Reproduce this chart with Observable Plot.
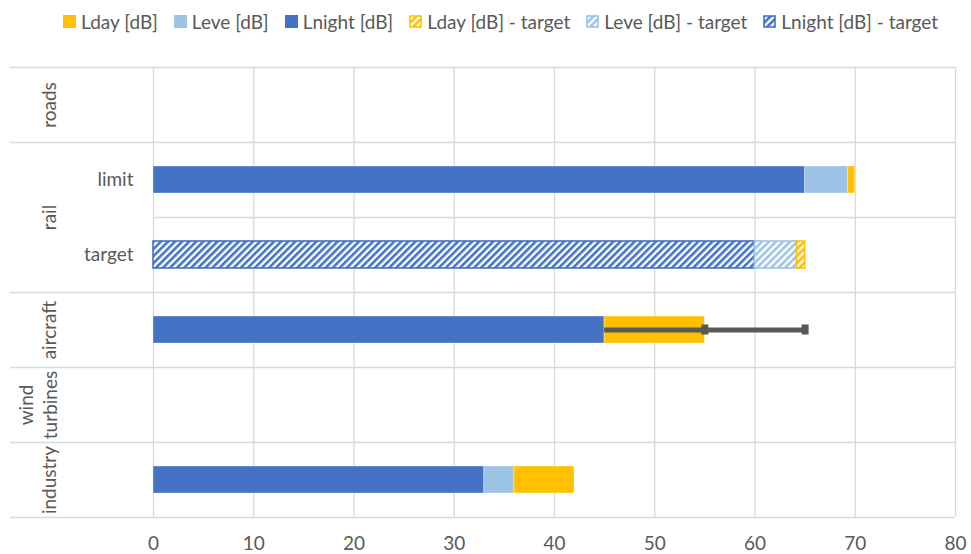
<!DOCTYPE html>
<html><head><meta charset="utf-8">
<script src="https://cdn.jsdelivr.net/npm/d3@7"></script>
<script src="https://cdn.jsdelivr.net/npm/@observablehq/plot@0.6"></script>
<style>
html,body{margin:0;padding:0;background:#fff;}
body{font-family:Lato,"Noto Sans",sans-serif;color:#595959;width:971px;height:554px;overflow:hidden;}
#legend{height:40px;display:flex;align-items:center;padding-left:63px;font-size:19px;box-sizing:border-box;padding-top:2px;}
.item{display:flex;align-items:center;margin-right:16px;}
.item svg{margin-right:5px;}
</style></head><body>
<svg width="0" height="0" style="position:absolute">
  <defs>
    <pattern id="hatch-Lday" patternUnits="userSpaceOnUse" width="5" height="5" patternTransform="rotate(45)">
      <rect width="5" height="5" fill="#ffffff"/><rect width="2.6" height="5" fill="#FFC000"/>
    </pattern>
    <pattern id="hatch-Leve" patternUnits="userSpaceOnUse" width="5" height="5" patternTransform="rotate(45)">
      <rect width="5" height="5" fill="#ffffff"/><rect width="2.6" height="5" fill="#9DC3E6"/>
    </pattern>
    <pattern id="hatch-Lnight" patternUnits="userSpaceOnUse" width="5" height="5" patternTransform="rotate(45)">
      <rect width="5" height="5" fill="#ffffff"/><rect width="2.6" height="5" fill="#4472C4"/>
    </pattern>
  </defs>
</svg>
<div id="legend"></div>
<div id="chart"></div>
<script>
// ---- data ----
const rowKeys = ["roads", "rail|limit", "rail|target", "aircraft", "wind turbines", "industry"];
const rowTickLabels = ["", "limit", "target", "", "", ""];
const groupNames = ["roads", "rail", "aircraft", "wind\nturbines", "industry"];
const groupFirstRow = ["roads", "rail|limit", "aircraft", "wind turbines", "industry"];
const groupRowSpan = [1, 2, 1, 1, 1];

const seriesNames = ["Lnight [dB]", "Leve [dB]", "Lday [dB]", "Lnight [dB] - target", "Leve [dB] - target", "Lday [dB] - target"];
const Lnight = [null, 65, null, 45, null, 33];
const Leve = [null, 4.3, null, 0, null, 3];
const Lday = [null, 0.7, null, 10, null, 6];
const LnightTarget = [null, null, 60, null, null, null];
const LeveTarget = [null, null, 4.2, null, null, null];
const LdayTarget = [null, null, 0.8, null, null, null];

const errorRow = "aircraft";
const errorStart = 45;
const errorCaps = [55, 65];

const xTicks = [0, 10, 20, 30, 40, 50, 60, 70, 80];

const legendOrder = ["Lday [dB]", "Leve [dB]", "Lnight [dB]", "Lday [dB] - target", "Leve [dB] - target", "Lnight [dB] - target"];

// ---- styles ----
const colors = {
  "Lnight [dB]": "#4472C4", "Leve [dB]": "#9DC3E6", "Lday [dB]": "#FFC000",
  "Lnight [dB] - target": "#4472C4", "Leve [dB] - target": "#9DC3E6", "Lday [dB] - target": "#FFC000"
};
const fills = {
  "Lnight [dB]": "#4472C4", "Leve [dB]": "#9DC3E6", "Lday [dB]": "#FFC000",
  "Lnight [dB] - target": "url(#hatch-Lnight)", "Leve [dB] - target": "url(#hatch-Leve)", "Lday [dB] - target": "url(#hatch-Lday)"
};
const hatched = s => s.endsWith("target");

// ---- build table (stacked) ----
const seriesValues = [Lnight, Leve, Lday, LnightTarget, LeveTarget, LdayTarget];
const segs = [];
rowKeys.forEach((key, i) => {
  let acc = 0;
  seriesNames.forEach((s, j) => {
    const v = seriesValues[j][i];
    if (v != null && v > 0) {
      segs.push({key, series: s, x1: acc, x2: acc + v});
      acc += v;
    }
  });
});

const W = 971, H = 514, mT = 27, mB = 37, mL = 153, mR = 16;
const band = (H - mT - mB) / rowKeys.length;
const grid = "#d9d9d9";
const fs = 19;

const groups = groupNames.map((g, i) => ({name: g, y: groupFirstRow[i], span: groupRowSpan[i]}));
const innerTopRows = rowKeys.filter(k => !groupFirstRow.includes(k));

const marks = [
  Plot.ruleX(xTicks, {x: d => d, stroke: grid, strokeWidth: 1.3}),
  Plot.ruleY(groupFirstRow, {y: d => d, dy: -band / 2, stroke: grid, strokeWidth: 1.3, insetLeft: -143}),
  Plot.ruleY([rowKeys[rowKeys.length - 1]], {y: d => d, dy: band / 2, stroke: grid, strokeWidth: 1.3, insetLeft: -143}),
  Plot.ruleY(innerTopRows, {y: d => d, dy: -band / 2, stroke: grid, strokeWidth: 1.3}),
];
seriesNames.forEach(s => {
  marks.push(Plot.barX(segs.filter(d => d.series === s), {
    x1: "x1", x2: "x2", y: "key",
    insetTop: 24, insetBottom: 24,
    fill: fills[s],
    stroke: hatched(s) ? colors[s] : "#ffffff",
    strokeOpacity: hatched(s) ? 1 : 0.35,
    strokeWidth: hatched(s) ? 1.6 : 1
  }));
});
marks.push(
  Plot.ruleY([errorRow], {y: d => d, x1: errorStart, x2: errorCaps[errorCaps.length - 1], stroke: "#595959", strokeWidth: 5}),
  Plot.tickX(errorCaps, {x: d => d, y: () => errorRow, stroke: "#595959", strokeWidth: 7, insetTop: 32.5, insetBottom: 32.5}),
  Plot.text(groups.filter(d => d.span === 1 && !d.name.includes("\n")), {
    y: "y", text: "name", frameAnchor: "left", textAnchor: "middle", dx: -104,
    rotate: -90, fontSize: fs, fill: "#595959"
  }),
  Plot.text(groups.filter(d => d.span > 1), {
    y: "y", text: "name", frameAnchor: "left", textAnchor: "middle", dx: -104, dy: band / 2,
    rotate: -90, fontSize: fs, fill: "#595959"
  }),
  Plot.text(groups.filter(d => d.name.includes("\n")), {
    y: "y", text: "name", frameAnchor: "left", textAnchor: "middle", dx: -116,
    rotate: -90, fontSize: fs, fill: "#595959", lineHeight: 1.25
  })
);

const chart = Plot.plot({
  width: W, height: H,
  marginTop: mT, marginBottom: mB, marginLeft: mL, marginRight: mR,
  style: {fontFamily: "Lato, 'Noto Sans', sans-serif", fontSize: fs + "px", color: "#595959", background: "#fff", overflow: "visible"},
  x: {domain: [0, 80], ticks: xTicks, tickSize: 0, tickPadding: 19, label: null},
  y: {domain: rowKeys, type: "band", paddingInner: 0, paddingOuter: 0, tickSize: 0, tickPadding: 20, label: null,
      tickFormat: d => rowTickLabels[rowKeys.indexOf(d)]},
  marks
});
document.getElementById("chart").appendChild(chart);

// ---- legend ----
const leg = d3.select("#legend");
legendOrder.forEach(s => {
  const it = leg.append("div").attr("class", "item");
  const sv = it.append("svg").attr("width", 13).attr("height", 13);
  sv.append("rect").attr("x", hatched(s) ? 1 : 0).attr("y", hatched(s) ? 1 : 0)
    .attr("width", hatched(s) ? 11 : 13).attr("height", hatched(s) ? 11 : 13)
    .attr("fill", fills[s]).attr("stroke", hatched(s) ? colors[s] : "none").attr("stroke-width", 1.6);
  it.append("span").text(s);
});
</script>
</body></html>
